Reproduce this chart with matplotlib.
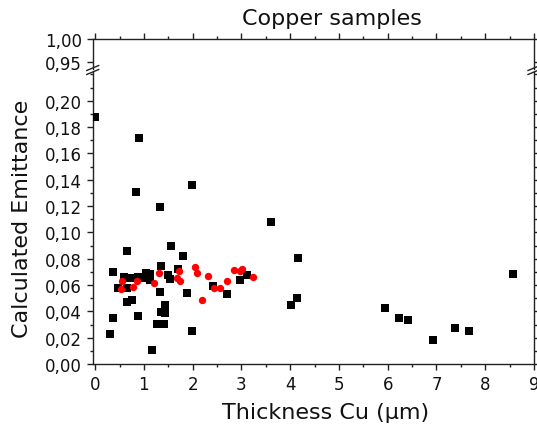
import matplotlib
matplotlib.use("Agg")
import matplotlib.pyplot as plt
from matplotlib.ticker import MultipleLocator, FuncFormatter, FixedLocator
from matplotlib.lines import Line2D

# ---- data ----
black_x = [0.00, 0.89, 0.84, 1.33, 1.99, 0.66, 1.56, 1.81, 0.375, 1.35,
           0.60, 0.72, 0.87, 0.46, 0.65, 1.04, 1.03, 1.13, 1.13, 1.50,
           1.54, 1.69, 1.32, 1.88, 2.42, 2.70, 2.97, 3.12, 0.66, 0.76,
           1.43, 1.35, 1.44, 0.375, 0.87, 1.26, 1.42, 0.31, 1.99, 1.17,
           3.60, 4.15, 4.01, 4.14, 5.94, 6.23, 6.41, 6.92, 7.38, 7.66, 8.56]
black_y = [0.188, 0.1716, 0.1304, 0.1195, 0.1362, 0.0858, 0.0893, 0.0817, 0.0698, 0.0741,
           0.0658, 0.065, 0.0658, 0.0577, 0.0577, 0.0693, 0.0655, 0.068, 0.0638, 0.0675,
           0.0645, 0.0719, 0.0547, 0.0539, 0.059, 0.0529, 0.0638, 0.0678, 0.0468, 0.0486,
           0.0448, 0.0392, 0.0387, 0.0352, 0.0362, 0.0301, 0.0301, 0.0225, 0.025, 0.0106,
           0.108, 0.0802, 0.045, 0.0498, 0.0428, 0.0352, 0.0337, 0.0182, 0.0271, 0.0253, 0.0684]
red_x = [0.546, 0.53, 0.785, 0.853, 1.21, 1.30, 1.71, 1.67, 1.74, 2.04,
         2.08, 2.20, 2.31, 2.44, 2.57, 2.70, 2.85, 2.97, 3.01, 3.23]
red_y = [0.0628, 0.057, 0.0587, 0.0628, 0.0615, 0.0693, 0.0706, 0.0653, 0.0633, 0.0734,
         0.0688, 0.0486, 0.067, 0.0577, 0.058, 0.0633, 0.0716, 0.0706, 0.0723, 0.0663]

title = "Copper samples"
xlabel = "Thickness Cu (µm)"
ylabel = "Calculated Emittance"
top_yticks = [0.95, 1.00]
bottom_yticks = [0.00, 0.02, 0.04, 0.06, 0.08, 0.10, 0.12, 0.14, 0.16, 0.18, 0.20]

W, H = 537, 431
fig = plt.figure(figsize=(W / 100, H / 100), dpi=100)

def fx(x):
    return x / W

def fy(y):
    return 1 - y / H

left_px, right_px = 92.7, 534.0
top_top, top_bot = 40.0, 69.5
bot_top, bot_bot = 72.5, 365.0

ax_top = fig.add_axes([fx(left_px), fy(top_bot), fx(right_px - left_px), (top_bot - top_top) / H])
ax = fig.add_axes([fx(left_px), fy(bot_bot), fx(right_px - left_px), (bot_bot - bot_top) / H])

spine_col = "#222222"
ms = 5.3
for a in (ax, ax_top):
    a.plot(black_x, black_y, 's', color='black', ms=ms, mew=0, zorder=3, clip_on=True)
    a.plot(red_x, red_y, 'o', color='#ff0000', ms=ms, mew=0, zorder=4, clip_on=True)
    a.set_xlim(-0.05, 9.0)
    for s in a.spines.values():
        s.set_linewidth(1.0)
        s.set_color(spine_col)
    a.tick_params(which='both', direction='out', color=spine_col, width=1.0,
                  labelsize=12, labelcolor='#111111')
    a.tick_params(which='major', length=4.6)
    a.tick_params(which='minor', length=2.4)

fmt = FuncFormatter(lambda v, p: f"{v:.2f}".replace('.', ','))

# bottom axes
ax.set_ylim(0, 0.2222)
ax.spines['top'].set_visible(False)
ax.xaxis.set_major_locator(MultipleLocator(1))
ax.xaxis.set_minor_locator(MultipleLocator(0.5))
ax.yaxis.set_major_locator(FixedLocator(bottom_yticks))
ax.yaxis.set_minor_locator(MultipleLocator(0.01))
ax.yaxis.set_major_formatter(fmt)
ax.tick_params(axis='y', which='both', left=True, right=True, labelleft=True, labelright=False)
ax.tick_params(axis='y', which='major', pad=3.0)
ax.tick_params(axis='x', which='both', bottom=True, top=False)

# top axes
ax_top.set_ylim(0.935, 1.0)
ax_top.spines['bottom'].set_visible(False)
ax_top.yaxis.set_major_locator(FixedLocator(top_yticks))
ax_top.yaxis.set_major_formatter(fmt)
ax_top.xaxis.set_major_locator(MultipleLocator(1))
ax_top.xaxis.set_minor_locator(MultipleLocator(0.5))
ax_top.tick_params(axis='x', which='both', bottom=False, top=True, labelbottom=False, labeltop=False)
ax_top.tick_params(axis='y', which='both', left=True, right=True, labelleft=True, labelright=False)
ax_top.tick_params(axis='y', which='major', pad=3.0)

# break marks
for sx in (left_px, right_px):
    for cy in (69.0, 73.0):
        fig.add_artist(Line2D([fx(sx - 6), fx(sx + 6)], [fy(cy + 2.5), fy(cy - 2.5)],
                              transform=fig.transFigure, color=spine_col, lw=1.0))

fig.text(fx(332), fy(19), title, fontsize=16, ha='center', va='center', color='#111111')
fig.text(fx(326), fy(413), xlabel, fontsize=16, ha='center', va='center', color='#111111')
fig.text(fx(22), fy(218.5), ylabel, fontsize=16, ha='center', va='center', rotation=90, color='#111111')

fig.savefig("out.png", dpi=100)
